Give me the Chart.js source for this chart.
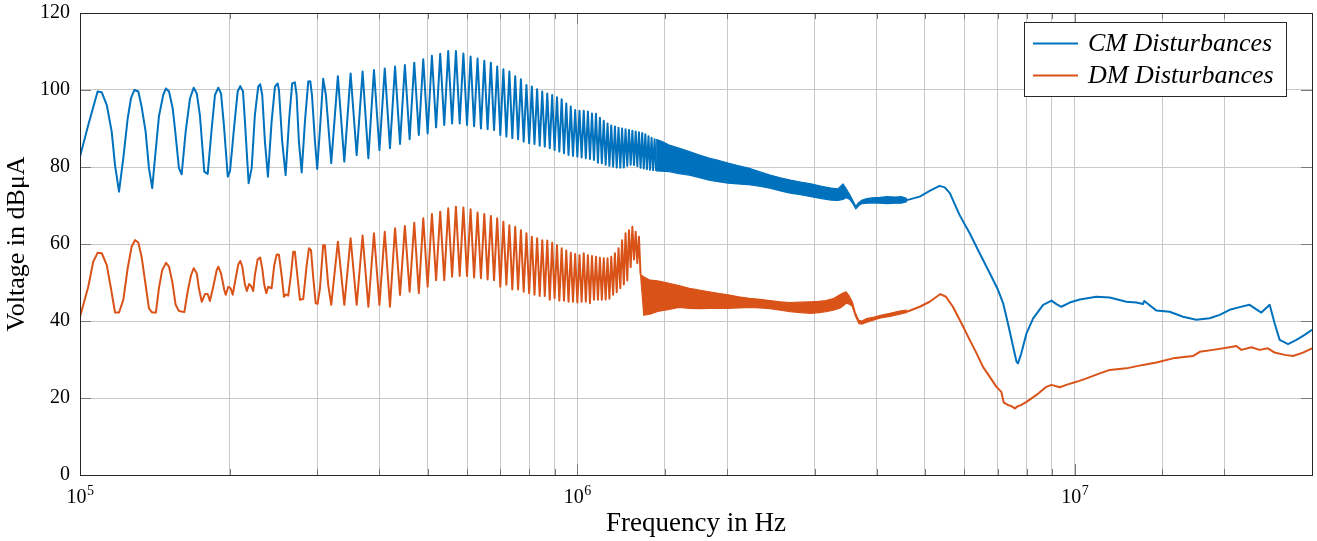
<!DOCTYPE html>
<html>
<head>
<meta charset="utf-8">
<script src="https://cdn.jsdelivr.net/npm/chart.js@4.4.1/dist/chart.umd.min.js"></script>
<style>
  html, body { margin: 0; padding: 0; background: #fff; }
</style>
</head>
<body>
<canvas id="chart" width="1317" height="541"></canvas>
<script>
// Conducted emission spectrum, frequencies in kHz, levels in dBuA

const seriesNames = ['CM Disturbances', 'DM Disturbances'];
const xTitle = 'Frequency in Hz';
const yTitle = 'Voltage in dBμA';
const xDecades = [5, 6, 7];

// 100 kHz - 310 kHz, resolved point by point
const cmLowKHz = [100, 103.9, 108.5, 110.6, 113.2, 115.8, 117.6, 119.8, 122.2, 124.7, 126.6, 128.6, 131.0, 133.0,
  135.5, 137.6, 139.7, 141.5, 144.1, 147.0, 148.9, 151.0, 153.6, 155.2, 158.1, 160.1, 163.1, 166.4, 169.3, 171.7,
  174.2, 177.8, 180.6, 184.0, 186.8, 189.7, 192.1, 194.7, 198.2, 200.3, 204.3, 207.5, 210.0, 212.7, 214.6, 218.3,
  221.4, 224.7, 228.2, 230.3, 232.5, 235.4, 238.7, 242.8, 246.6, 249.7, 251.2, 255.0, 259.1, 263.4, 267.1, 270.4,
  272.6, 275.5, 279.1, 283.3, 287.7, 290.4, 292.7, 296.8, 299.9, 304.7, 308.3, 312.2];
const cmLowLevel = [82.7, 90.9, 99.6, 99.4, 96.1, 89.2, 80.5, 73.6, 82.3, 92.6, 97.8, 100.0, 99.6, 95.7,
  89.2, 79.7, 74.5, 82.3, 93.1, 98.7, 100.4, 99.6, 95.2, 90.0, 79.7, 78.1, 89.2, 97.8, 100.6, 99.1,
  93.5, 78.8, 78.2, 90.0, 98.7, 100.6, 99.1, 90.9, 77.5, 79.0, 90.9, 99.6, 101.0, 99.6, 91.8, 75.8,
  79.7, 93.5, 100.9, 101.5, 98.7, 86.6, 77.5, 91.8, 100.9, 101.7, 100.0, 86.6, 77.9, 92.6, 101.7, 102.0,
  98.7, 86.6, 78.6, 91.8, 102.2, 102.3, 98.7, 86.6, 79.5, 92.6, 102.9, 98.7];

const dmLowKHz = [100, 103.9, 106.3, 108.5, 110.6, 113.2, 115.4, 117.6, 119.8, 122.2, 124.7, 127.0, 129.0, 131.0,
  133.0, 135.5, 137.6, 139.7, 142.1, 144.1, 146.3, 148.9, 151.0, 153.3, 155.7, 158.1, 162.1, 164.6, 167.2, 169.3,
  171.7, 173.4, 175.7, 178.4, 180.6, 182.5, 185.3, 188.3, 189.7, 192.1, 195.0, 196.3, 198.7, 200.9, 202.8, 205.6,
  208.1, 210.0, 212.0, 214.6, 216.6, 218.7, 220.7, 223.0, 224.7, 227.6, 230.3, 232.5, 234.7, 236.9, 239.1, 242.8,
  245.8, 248.6, 251.2, 254.3, 257.1, 259.4, 262.2, 265.5, 268.4, 270.4, 273.9, 276.8, 281.1, 285.6, 288.7, 291.4,
  294.5, 297.8, 300.4, 303.7, 308.3, 310.7, 315.5];
const dmLowLevel = [41.1, 48.9, 55.4, 57.7, 57.6, 54.5, 48.5, 42.2, 42.2, 45.5, 53.7, 59.3, 61.0, 60.4,
  56.7, 49.4, 43.3, 42.2, 42.2, 48.5, 53.2, 55.1, 54.1, 50.2, 44.2, 42.6, 42.3, 47.6, 51.9, 53.7,
  52.4, 48.5, 45.0, 47.0, 47.0, 45.2, 48.9, 53.2, 54.1, 52.4, 48.1, 46.8, 48.9, 48.5, 46.8, 51.1,
  54.7, 55.6, 54.1, 49.4, 47.8, 49.6, 49.1, 47.8, 51.9, 56.0, 56.5, 53.7, 49.4, 47.2, 48.9, 48.5,
  54.5, 57.3, 57.2, 51.9, 46.3, 46.9, 46.6, 51.9, 58.0, 58.0, 51.1, 45.5, 45.7, 54.5, 58.9, 58.4,
  51.1, 44.6, 44.5, 48.5, 59.7, 59.7, 49.4];

// harmonic crests and troughs, 320 kHz - 1.44 MHz
const peakKHz = [330, 350, 370, 390, 410, 430, 450, 470, 490, 510, 530, 550, 570, 590, 610, 630, 650, 670, 690,
  710, 730, 750, 770, 790, 810, 830, 850, 870, 890, 910, 930, 950, 970, 990, 1010, 1030, 1050, 1070, 1090, 1110,
  1130, 1150, 1170, 1190, 1210, 1230, 1250, 1270, 1290, 1310, 1330, 1350, 1370, 1390, 1410, 1430];
const dipKHz = [320, 340, 360, 380, 400, 420, 440, 460, 480, 500, 520, 540, 560, 580, 600, 620, 640, 660, 680,
  700, 720, 740, 760, 780, 800, 820, 840, 860, 880, 900, 920, 940, 960, 980, 1000, 1020, 1040, 1060, 1080, 1100,
  1120, 1140, 1160, 1180, 1200, 1220, 1240, 1260, 1280, 1300, 1320, 1340, 1360, 1380, 1400, 1420, 1440];

const cmPeak = [103.6, 104.3, 104.8, 105.2, 105.6, 106.1, 106.5, 107.1, 108.0, 108.9, 109.4, 110.1, 110.1, 109.5,
  108.7, 108.2, 107.6, 107.1, 106.1, 105.4, 104.8, 103.6, 102.8, 101.3, 100.9, 100.2, 99.6, 99.1, 98.7, 98.1,
  97.6, 96.5, 95.7, 94.8, 94.6, 94.6, 94.4, 93.9, 93.8, 92.8, 92.0, 91.3, 90.8, 90.5, 90.2, 90.0, 89.8, 89.6,
  89.4, 89.2, 89.0, 88.8, 88.5, 88.0, 87.6, 87.2];
const cmDip = [81.0, 81.4, 83.1, 82.3, 84.4, 84.9, 86.0, 87.2, 88.3, 88.7, 90.3, 90.9, 91.3, 91.3, 90.9, 90.6,
  90.0, 89.8, 89.6, 88.3, 87.9, 87.5, 87.2, 86.6, 86.2, 86.0, 85.5, 85.3, 84.9, 84.4, 84.0, 83.6, 83.1, 82.9,
  82.7, 82.5, 82.3, 82.1, 81.8, 81.1, 81.0, 80.6, 80.3, 80.1, 79.9, 79.8, 79.9, 80.3, 80.6, 80.5, 80.2, 79.8,
  79.6, 79.4, 79.3, 79.2, 79.0];

const dmPeak = [60.6, 61.5, 62.2, 62.8, 63.2, 64.1, 64.7, 65.5, 66.7, 67.8, 68.4, 69.3, 69.7, 69.5, 69.0, 68.2,
  67.8, 67.3, 66.7, 65.8, 64.9, 64.5, 63.6, 62.8, 61.9, 61.5, 61.0, 60.9, 60.3, 59.7, 58.9, 58.3, 57.7, 57.4,
  57.1, 57.6, 57.1, 56.9, 56.7, 56.4, 56.3, 56.3, 56.7, 57.6, 58.9, 61.0, 62.8, 63.6, 64.5, 63.2, 61.9];
const dmDip = [44.2, 44.2, 44.2, 43.7, 44.2, 43.7, 46.8, 47.6, 47.2, 48.9, 50.6, 50.6, 51.5, 51.7, 51.7, 51.3,
  51.1, 50.8, 50.6, 48.9, 49.4, 48.2, 48.2, 47.6, 47.2, 46.8, 46.5, 46.5, 45.5, 45.9, 45.3, 45.3, 45.0, 45.0,
  44.8, 45.0, 45.0, 44.6, 45.5, 45.5, 45.5, 45.6, 45.8, 46.8, 47.5, 48.5, 49.5, 50.5, 54.0, 56.0, 55.0, 52.0];

// unresolved harmonics: upper and lower envelope
const cmBandKHz = [1440, 1480, 1530, 1600, 1680, 1760, 1840, 1920, 2010, 2100, 2210, 2320, 2440, 2560, 2680,
  2810, 2950, 3100, 3240, 3340, 3420, 3470, 3530, 3580, 3630, 3680, 3740, 3820, 3920, 4050, 4200, 4350, 4480, 4600];
const cmBandHi = [87.2, 86.6, 85.7, 84.9, 84.0, 83.1, 82.3, 81.7, 81.0, 80.4, 79.7, 78.8, 77.9, 77.2, 76.6,
  76.1, 75.6, 75.0, 74.5, 74.3, 75.6, 74.4, 72.8, 71.3, 69.8, 70.8, 71.4, 71.8, 72.0, 72.1, 72.3, 72.2, 72.3, 71.8];
const cmBandLo = [79.0, 78.9, 78.8, 78.3, 77.9, 77.2, 76.6, 76.2, 75.8, 75.6, 75.4, 75.0, 74.5, 73.8, 73.2,
  72.8, 72.3, 71.8, 71.4, 71.3, 71.6, 72.0, 71.6, 70.5, 69.1, 70.0, 70.5, 70.6, 70.7, 70.6, 70.5, 70.6, 70.6, 71.0];

const dmBandKHz = [1340, 1360, 1400, 1450, 1530, 1600, 1680, 1760, 1840, 1920, 2010, 2110, 2220, 2330, 2440,
  2560, 2680, 2810, 2950, 3060, 3160, 3270, 3370, 3430, 3470, 3520, 3570, 3620, 3680, 3730, 3810, 3950, 4070,
  4250, 4450, 4600];
const dmBandHi = [52.0, 51.5, 50.6, 50.4, 49.8, 49.2, 48.5, 48.0, 47.6, 47.2, 46.8, 46.3, 45.9, 45.6, 45.3,
  45.0, 44.8, 44.9, 45.0, 45.1, 45.3, 45.8, 46.8, 47.3, 47.6, 46.5, 45.0, 42.2, 40.2, 40.0, 40.6, 41.0, 41.5,
  42.0, 42.6, 42.8];
const dmBandLo = [52.0, 41.5, 41.8, 42.5, 43.0, 43.5, 43.3, 43.2, 43.3, 43.3, 43.3, 43.4, 43.5, 43.4, 43.2,
  42.8, 42.4, 42.2, 42.0, 42.2, 42.4, 42.8, 43.3, 44.0, 44.6, 44.4, 43.8, 41.4, 39.4, 39.2, 39.6, 40.3, 40.8,
  41.2, 41.8, 42.2];

// 4.6 MHz - 30 MHz
const cmHighKHz = [4600, 4880, 5110, 5350, 5480, 5610, 5870, 6150, 6440, 6750, 7010, 7180, 7340, 7520, 7640,
  7690, 7810, 8000, 8250, 8640, 8980, 9190, 9400, 9770, 10240, 11050, 11760, 12700, 13300, 13720, 13800, 14600,
  15520, 16510, 17560, 18680, 19570, 20490, 21460, 22470, 23190, 23730, 24660, 25230, 25830, 26850, 27910, 29000, 30000];
const cmHighLevel = [71.4, 72.3, 73.8, 75.1, 74.7, 73.2, 67.5, 62.8, 57.6, 52.4, 48.1, 44.6, 39.4, 33.3, 29.4,
  29.0, 31.6, 36.8, 40.7, 44.2, 45.3, 44.4, 43.7, 44.8, 45.6, 46.3, 46.1, 45.0, 44.8, 44.4, 45.2, 42.7,
  42.4, 41.1, 40.3, 40.7, 41.6, 42.9, 43.6, 44.2, 43.0, 42.2, 44.2, 39.4, 35.1, 34.0, 35.1, 36.4, 37.7];

const dmHighKHz = [4600, 4880, 5110, 5370, 5510, 5690, 5920, 6150, 6350, 6540, 6750, 6960, 7120, 7200, 7340,
  7460, 7580, 7690, 7810, 8000, 8380, 8770, 8980, 9330, 9620, 10080, 10560, 11230, 11760, 12700, 13720, 14600,
  15760, 17290, 17840, 18970, 20490, 21140, 21630, 22660, 23540, 24470, 25230, 26430, 27470, 28770, 30000];
const dmHighLevel = [42.4, 43.7, 45.0, 47.0, 46.3, 43.7, 39.4, 35.1, 31.6, 28.1, 25.5, 22.9, 21.6, 18.8, 18.2,
  17.9, 17.3, 17.9, 18.2, 19.0, 20.8, 22.9, 23.4, 22.8, 23.4, 24.2, 25.1, 26.4, 27.3, 27.7, 28.6, 29.2,
  30.3, 30.9, 32.0, 32.5, 33.2, 33.5, 32.5, 33.2, 32.5, 32.9, 31.8, 31.2, 30.9, 31.8, 32.9];

const CM_COLOR = '#0072bd';
const DM_COLOR = '#d95319';
const GRID = '#c8c8c8';
const AXIS = '#262626';
const SERIF = "'Liberation Serif', 'DejaVu Serif', serif";

const pts = (khz, level) => level.map((v, i) => ({ x: khz[i] * 1e3, y: v }));
const zigzag = (pk, pv, dk, dv) => pts(pk, pv).concat(pts(dk, dv)).sort((a, b) => a.x - b.x);

function trace(label, color, data, extra) {
  return Object.assign({
    label, data,
    borderColor: color,
    backgroundColor: color,
    borderWidth: 2,
    borderJoinStyle: 'round',
    pointRadius: 0,
    tension: 0,
    fill: false
  }, extra);
}

const datasets = [
  trace(seriesNames[0], CM_COLOR, pts(cmLowKHz, cmLowLevel).concat(zigzag(peakKHz, cmPeak, dipKHz, cmDip))),
  trace('', CM_COLOR, pts(cmBandKHz, cmBandLo), { borderWidth: 1.2 }),
  trace('', CM_COLOR, pts(cmBandKHz, cmBandHi), { borderWidth: 1.2, fill: '-1' }),
  trace('', CM_COLOR, pts(cmHighKHz, cmHighLevel)),
  trace(seriesNames[1], DM_COLOR, pts(dmLowKHz, dmLowLevel).concat(zigzag(peakKHz, dmPeak, dipKHz, dmDip))),
  trace('', DM_COLOR, pts(dmBandKHz, dmBandLo), { borderWidth: 1.2 }),
  trace('', DM_COLOR, pts(dmBandKHz, dmBandHi), { borderWidth: 1.2, fill: '-1' }),
  trace('', DM_COLOR, pts(dmHighKHz, dmHighLevel))
];

const isDecade = v => Math.abs(Math.log10(v) - Math.round(Math.log10(v))) < 1e-9;

// axis box with inward tick marks on all four sides
const frame = {
  id: 'frame',
  afterDatasetsDraw(chart) {
    const { ctx, chartArea: a, scales: { x, y } } = chart;
    ctx.save();
    ctx.strokeStyle = '#7a7a7a';
    ctx.lineWidth = 1;
    ctx.beginPath();
    x.ticks.forEach(t => {
      const px = Math.round(x.getPixelForValue(t.value)) + 0.5;
      const len = isDecade(t.value) ? 11 : 6;
      ctx.moveTo(px, a.bottom); ctx.lineTo(px, a.bottom - len);
      ctx.moveTo(px, a.top); ctx.lineTo(px, a.top + len);
    });
    y.ticks.forEach(t => {
      const py = Math.round(y.getPixelForValue(t.value)) + 0.5;
      ctx.moveTo(a.left, py); ctx.lineTo(a.left + 11, py);
      ctx.moveTo(a.right, py); ctx.lineTo(a.right - 11, py);
    });
    ctx.stroke();
    ctx.strokeStyle = AXIS;
    ctx.strokeRect(Math.round(a.left) + 0.5, Math.round(a.top) + 0.5,
      Math.round(a.right - a.left), Math.round(a.bottom - a.top));
    ctx.restore();
  }
};

// 10^n labels under the decade ticks
const decadeLabels = {
  id: 'decadeLabels',
  afterDraw(chart) {
    const { ctx, chartArea: a, scales: { x } } = chart;
    ctx.save();
    ctx.fillStyle = '#000';
    ctx.textBaseline = 'alphabetic';
    xDecades.forEach(e => {
      const px = x.getPixelForValue(Math.pow(10, e));
      ctx.font = `20px ${SERIF}`;
      const wb = ctx.measureText('10').width;
      ctx.font = `14px ${SERIF}`;
      const we = ctx.measureText(String(e)).width;
      const left = px - (wb + we) / 2;
      ctx.font = `20px ${SERIF}`;
      ctx.fillText('10', left, a.bottom + 28);
      ctx.font = `14px ${SERIF}`;
      ctx.fillText(String(e), left + wb + 0.5, a.bottom + 20);
    });
    ctx.restore();
  }
};

// boxed legend in the upper right corner
const legendBox = {
  id: 'legendBox',
  afterDraw(chart) {
    const { ctx, chartArea: a } = chart;
    const items = chart.data.datasets.filter(d => d.label);
    const w = 262, h = 74;
    const left = Math.round(a.right - 26 - w), top = Math.round(a.top + 9);
    ctx.save();
    ctx.fillStyle = '#fff';
    ctx.fillRect(left, top, w, h);
    ctx.strokeStyle = AXIS;
    ctx.lineWidth = 1;
    ctx.strokeRect(left + 0.5, top + 0.5, w, h);
    ctx.font = `italic 26px ${SERIF}`;
    ctx.textBaseline = 'alphabetic';
    items.forEach((d, i) => {
      const cy = top + 21.5 + i * 32;
      ctx.strokeStyle = d.borderColor;
      ctx.lineWidth = 1.8;
      ctx.beginPath();
      ctx.moveTo(left + 9, cy);
      ctx.lineTo(left + 54, cy);
      ctx.stroke();
      ctx.fillStyle = '#000';
      ctx.fillText(d.label, left + 64, cy + 7);
    });
    ctx.restore();
  }
};

new Chart(document.getElementById('chart'), {
  type: 'line',
  data: { datasets },
  options: {
    responsive: false,
    devicePixelRatio: 1,
    animation: false,
    layout: { padding: { left: 0, right: 5, top: 13, bottom: 0 } },
    plugins: {
      legend: { display: false },
      tooltip: { enabled: false }
    },
    scales: {
      x: {
        type: 'logarithmic',
        min: 1e5,
        max: 3e7,
        afterFit: s => { s.height = 66; s.paddingLeft = 0; s.paddingRight = 0; },
        grid: { color: GRID, lineWidth: 1, drawTicks: false },
        border: { display: false },
        ticks: { autoSkip: false, maxRotation: 0, padding: 0, callback: () => '' },
        title: {
          display: true, text: xTitle, color: '#000',
          font: { family: SERIF, size: 27 },
          padding: { top: 0, bottom: 1 }
        }
      },
      y: {
        min: 0,
        max: 120,
        afterFit: s => { s.width = 80; s.paddingTop = 0; s.paddingBottom = 0; },
        grid: { color: GRID, lineWidth: 1, drawTicks: false },
        border: { display: false },
        ticks: { stepSize: 20, color: '#000', font: { family: SERIF, size: 20 }, padding: 10 },
        title: {
          display: true, text: yTitle, color: '#000',
          font: { family: SERIF, size: 26 },
          padding: { top: 2, bottom: 0 }
        }
      }
    }
  },
  plugins: [frame, decadeLabels, legendBox]
});
</script>
</body>
</html>
